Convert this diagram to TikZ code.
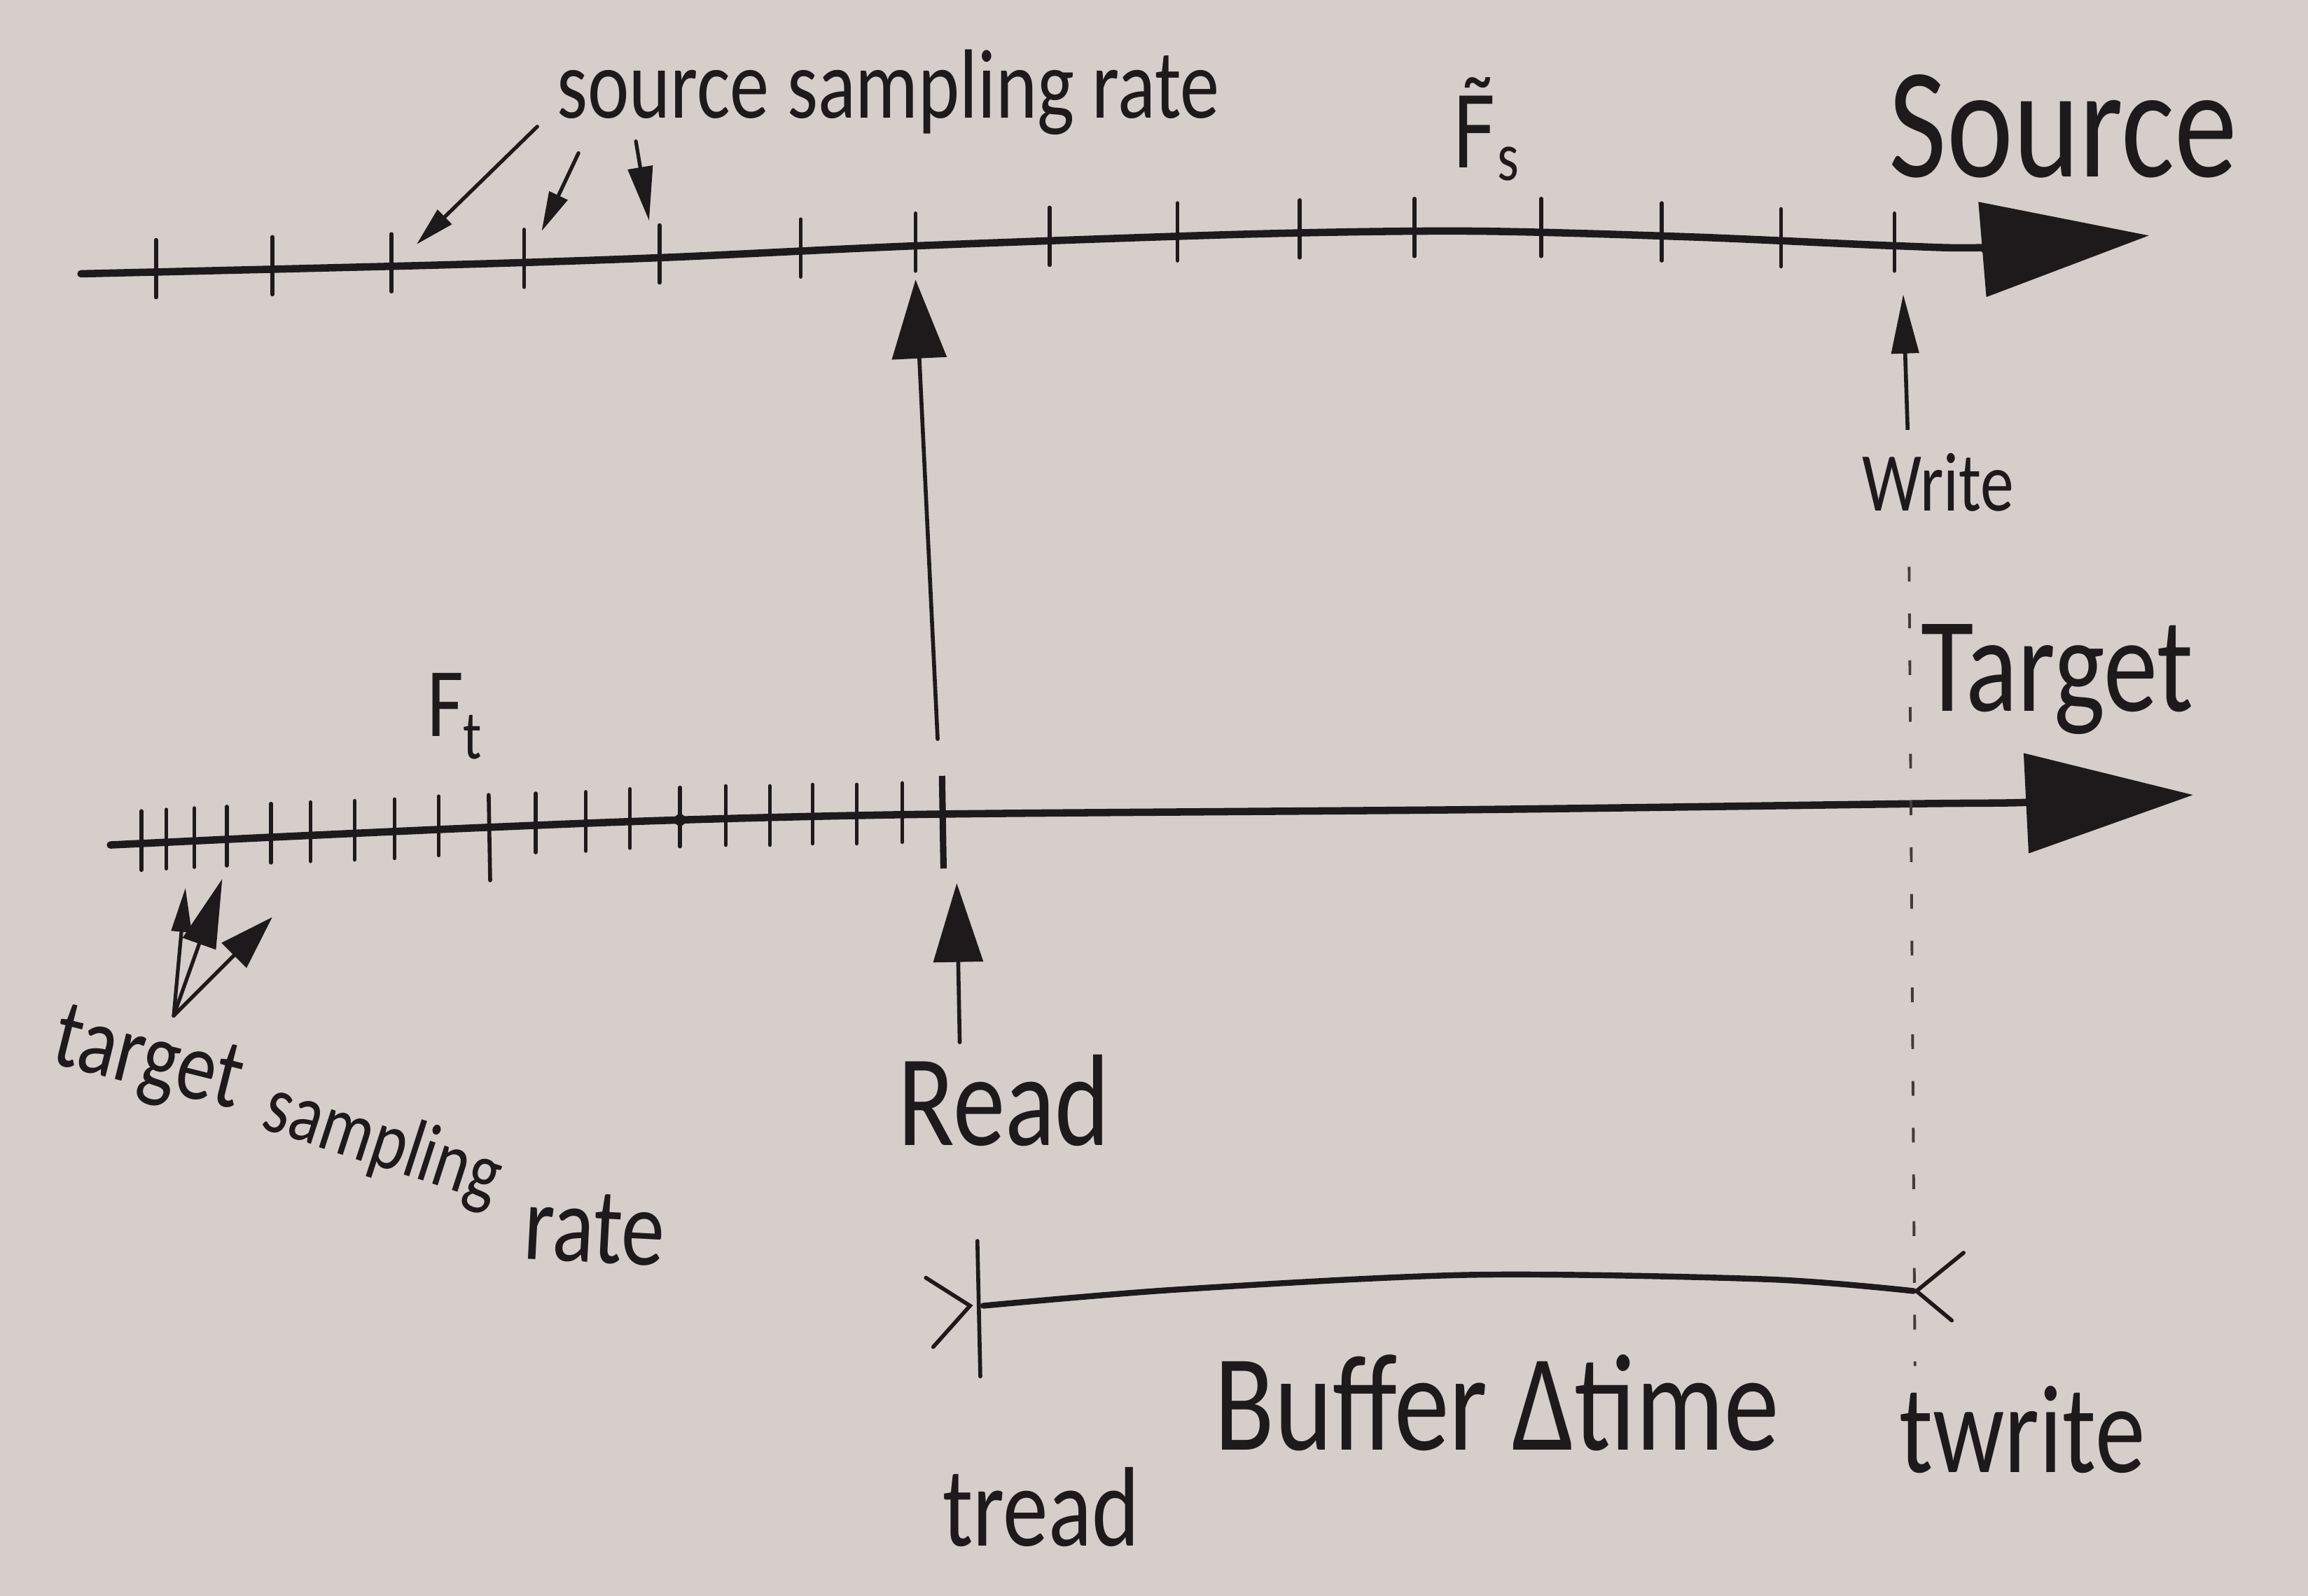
\documentclass[tikz,border=0pt]{standalone}
\usepackage{fontspec}
\setmainfont{Carlito}[FakeStretch=0.8]
\newfontfamily\dvs{DejaVu Sans}[FakeStretch=0.8]
\usetikzlibrary{arrows.meta}
\definecolor{paper}{RGB}{214,206,203}
\definecolor{ink}{RGB}{30,26,27}
\newcommand{\fsz}[1]{\fontsize{#1}{#1}\selectfont}
\begin{document}
\begin{tikzpicture}[x=0.02102cm,y=-0.02102cm,
  axis/.style={draw=ink,line width=3pt,line cap=round,line join=round},
  tickmark/.style={draw=ink,line width=1.6pt,line cap=round},
  ptr/.style={draw=ink,line width=1.5pt,line cap=round,-{Triangle[length=16pt,width=8pt]}},
  bigptr/.style={draw=ink,line width=1.6pt,line cap=round,-{Triangle[length=32pt,width=22pt]}},
  lbl/.style={text=ink,inner sep=0pt,anchor=base west}]
\fill[paper] (0,0) rectangle (1568,1084);
\useasboundingbox (0,0) rectangle (1568,1084);

% ---------------- Source axis ----------------
\draw[axis,-{Triangle[length=68pt,width=38pt]}] plot[smooth] coordinates
  {(55,186) (300,180) (450,175) (622,167) (850,159) (1000,157) (1150,161) (1288,167) (1352,168) (1460,160)};
\foreach \x/\y in {106/185,185/183,266/181,356/178,448/175,544/171,622/167,713/163,800/160,883/158,961/157,1047/157,1129/160,1210/164,1287/167}
  \draw[tickmark] (\x,\y-22) -- (\x,\y+17);

% ---------------- Target axis ----------------
\draw[axis,-{Triangle[length=68pt,width=40pt]}] plot[smooth] coordinates
  {(75,574) (200,568) (332,562) (462,557) (641,553) (1000,550) (1300,546) (1380,545) (1490,540)};
\foreach \x/\y in {96/573,113/572,132/571,154/570,184/568,211/567,241/566,268/565,298/563,364/561,398/560,428/558,462/557,493/556,523/556,552/555,582/555,613/554}
  \draw[tickmark] (\x,\y-22) -- (\x,\y+18);
\draw[tickmark] (332,540) -- (333,598);
\fill[ink] (462,557) circle (4);
\draw[ink,line width=2.6pt] (640,527) -- (641,590);

% ---------------- labels top ----------------
\node[lbl,font=\fsz{40}] (ssr) at (378,80) {source sampling rate};
\coordinate (ssrA) at (365,86);
\coordinate (ssrB) at (393,104);
\coordinate (ssrC) at (432,96);
\coordinate (tick3) at (283,166);
\coordinate (tick4) at (368,157);
\coordinate (tick5) at (441,150);
\draw[ptr] (ssrA) -- (tick3);
\draw[ptr] (ssrB) -- (tick4);
\draw[ptr,-{Triangle[length=22pt,width=10pt]}] (ssrC) -- (tick5);

\node[lbl,font=\fsz{40}] (fs) at (986,114) {{\dvs F\symbol{"0303}}\textsubscript{s}};
\node[lbl,font=\fsz{64}] (source) at (1283,120) {Source};

% ---------------- big read link ----------------
\coordinate (bigTail) at (637,502);
\coordinate (bigTip) at (622,190);
\draw[bigptr] (bigTail) -- (bigTip);

% ---------------- write ----------------
\node[lbl,font=\fsz{34}] (write) at (1265,347) {Write};
\coordinate (wTail) at (1296,292);
\coordinate (wTip) at (1293,200);
\draw[draw=ink,line width=1.6pt,-{Triangle[length=24pt,width=11pt]}] (wTail) -- (wTip);

\coordinate (dTop) at (1297,385);
\coordinate (dBot) at (1301,928);
\draw[draw=ink!85,line width=1.1pt,dash pattern=on 6pt off 13pt] (dTop) -- (dBot);
\node[lbl,font=\fsz{55}] (target) at (1305,483) {Target};

% ---------------- Ft ----------------
\node[lbl,font=\fsz{40}] (ft) at (290,500) {F\textsubscript{t}};

% ---------------- target sampling rate ----------------
\node[lbl,font=\fsz{40},rotate=-14] (tsr1) at (33,722) {target};
\node[lbl,font=\fsz{34},rotate=-18] (tsr2) at (176,766) {sampling};
\node[lbl,font=\fsz{44},rotate=-3] (tsr3) at (355,855) {rate};
\coordinate (tsrTail) at (118,690);
\coordinate (tt1) at (126,603);
\coordinate (tt2) at (151,597);
\coordinate (tt3) at (185,623);
\draw[ptr,-{Triangle[length=18pt,width=8pt]}] (tsrTail) -- (tt1);
\draw[ptr,-{Triangle[length=28pt,width=14pt]}] (tsrTail) -- (tt2);
\draw[ptr,-{Triangle[length=22pt,width=14pt]}] (tsrTail) -- (tt3);

% ---------------- Read ----------------
\node[lbl,font=\fsz{53}] (read) at (610,778) {Read};
\coordinate (rTail) at (652,708);
\coordinate (rTip) at (650,600);
\draw[bigptr,-{Triangle[length=32pt,width=20pt]}] (rTail) -- (rTip);

% ---------------- Buffer ----------------
\draw[draw=ink,line width=2.4pt,line cap=round] plot[smooth] coordinates {(668,887) (800,876) (1000,866) (1200,869) (1300,877)};
\draw[tickmark] (664,843) -- (666,935);
\draw[tickmark] (629,868) -- (659,887) -- (634,915);
\draw[tickmark] (1334,851) -- (1302,877) -- (1326,897);
\node[lbl,font=\fsz{46}] (tread) at (640,1050) {tread};
\node[lbl,font=\fsz{56}] (buffer) at (825,985) {Buffer Δtime};
\node[lbl,font=\fsz{51}] (twrite) at (1290,1000) {twrite};
\end{tikzpicture}
\end{document}
